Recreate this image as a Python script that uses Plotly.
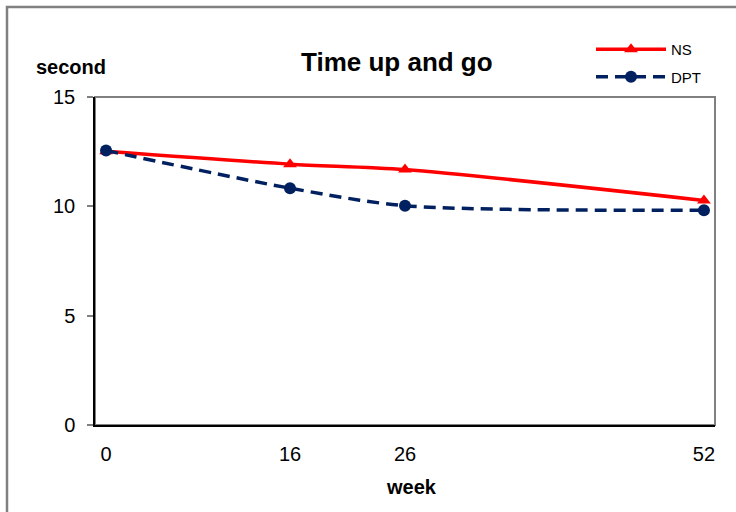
import plotly.graph_objects as go

weeks = [0, 16, 26, 52]
ns_values = [12.52, 11.93, 11.68, 10.27]
dpt_values = [12.55, 10.83, 10.03, 9.82]
y_ticks = [0, 5, 10, 15]

FONT = "Liberation Sans, Arial, sans-serif"

fig = go.Figure()
fig.add_trace(go.Scatter(
    x=weeks, y=ns_values, name="NS", mode="lines+markers", legendgroup="a",
    line=dict(color="#FF0000", width=3.5, shape="spline", smoothing=0.8),
    marker=dict(symbol="triangle-up", size=12, color="#FF0000"),
))
fig.add_trace(go.Scatter(
    x=weeks, y=dpt_values, name="DPT", mode="lines+markers", legendgroup="b",
    line=dict(color="#002060", width=3.5, dash="12px,7px", shape="spline", smoothing=0.8),
    marker=dict(symbol="circle", size=12, color="#002060"),
))

W, H = 736, 512
L, R, T, B = 95, 715, 97, 425
pw, ph = R - L, B - T

def px(x):
    return (x - L) / pw

def py(y):
    return (B - y) / ph

fig.update_layout(
    width=W, height=H,
    margin=dict(l=L, r=W - R, t=T, b=H - B),
    paper_bgcolor="white", plot_bgcolor="white",
    font=dict(family=FONT, color="black"),
    showlegend=True,
    legend=dict(x=px(591), y=py(33), xanchor="left", yanchor="top",
                font=dict(size=15, family=FONT), itemwidth=70,
                traceorder="grouped", tracegroupgap=5,
                bgcolor="rgba(0,0,0,0)"),
    xaxis=dict(range=[-0.96, 52.96], tickvals=weeks, ticktext=[str(w) for w in weeks],
               showgrid=False, zeroline=False, showline=True, linecolor="black", linewidth=1.5,
               ticks="", tickfont=dict(size=20), ticklabelstandoff=10),
    yaxis=dict(range=[0, 15], tickvals=y_ticks, showgrid=False, zeroline=False,
               showline=True, linecolor="black", linewidth=1.5,
               ticks="outside", ticklen=6, tickcolor="#808080", tickwidth=2,
               tickfont=dict(size=20), ticklabelstandoff=8),
    shapes=[
        dict(type="rect", xref="paper", yref="paper", x0=0, x1=1, y0=0, y1=1,
             line=dict(color="#808080", width=2), layer="below"),
        dict(type="rect", xref="paper", yref="paper", x0=px(7), x1=px(760), y0=py(540), y1=py(7),
             line=dict(color="#808080", width=2.5), layer="below"),
    ],
    annotations=[
        dict(text="<b>Time up and go</b>", x=px(397), y=py(62), xref="paper", yref="paper",
             showarrow=False, font=dict(size=26, family=FONT), xanchor="center", yanchor="middle"),
        dict(text="<b>second</b>", x=px(71), y=py(67), xref="paper", yref="paper",
             showarrow=False, font=dict(size=20, family=FONT), xanchor="center", yanchor="middle"),
        dict(text="<b>week</b>", x=px(412), y=py(487), xref="paper", yref="paper",
             showarrow=False, font=dict(size=20, family=FONT), xanchor="center", yanchor="middle"),
    ],
)

fig.write_html("out.html", config={"displayModeBar": False},
               post_script="document.body.style.margin='0';document.body.style.overflow='hidden';")
